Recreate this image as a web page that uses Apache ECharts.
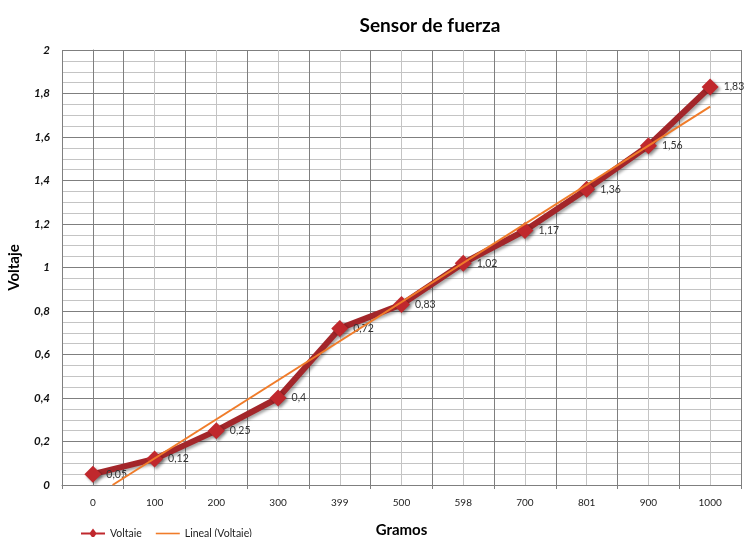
<!DOCTYPE html>
<html><head><meta charset="utf-8">
<script src="https://cdn.jsdelivr.net/npm/echarts@6/dist/echarts.min.js"></script>
<style>html,body{margin:0;padding:0;background:#fff}#c{width:744px;height:537px}</style>
</head><body><div id="c"></div>
<script>
const categories = ['0','100','200','300','399','500','598','700','801','900','1000'];
const voltaje = [0.05, 0.12, 0.25, 0.4, 0.72, 0.83, 1.02, 1.17, 1.36, 1.56, 1.83];
// Linear trendline endpoints (category position, value)
const trendX = [0.32, 10];
const trendY = [0, 1.74];
const yTicks = [0, 0.2, 0.4, 0.6, 0.8, 1, 1.2, 1.4, 1.6, 1.8, 2];

const comma = v => String(v).replace('.', ',');
const FONT = 'Lato, "Liberation Sans", sans-serif';
const chart = echarts.init(document.getElementById('c'));
chart.setOption({
  animation: false,
  backgroundColor: '#fff',
  title: {
    text: 'Sensor de fuerza', left: 425, top: 11, textAlign: 'center',
    textStyle: {fontFamily: FONT, fontWeight: 'bold', fontSize: 19, color: '#000'}
  },
  legend: {
    left: 76, top: 523, itemWidth: 24, itemHeight: 10, itemGap: 14,
    textStyle: {fontFamily: FONT, fontSize: 10.5, color: '#222'},
    data: [
      {name: 'Voltaje', icon: 'path://M0,4.1L9,4.1L12,0L15,4.1L24,4.1L24,5.9L15,5.9L12,10L9,5.9L0,5.9Z'},
      {name: 'Lineal (Voltaje)', icon: 'path://M0,4.2L24,4.2L24,5.8L0,5.8Z'}
    ]
  },
  grid: {left: 62, right: 3, top: 50, bottom: 52, containLabel: false, outerBoundsMode: 'none'},
  xAxis: [{
    type: 'category', data: categories, boundaryGap: true, z: 2,
    name: 'Gramos', nameLocation: 'middle', nameGap: 38,
    nameTextStyle: {fontFamily: FONT, fontWeight: 'bold', fontSize: 15, color: '#000'},
    axisLine: {lineStyle: {color: '#7f7f7f', width: 1}},
    axisTick: {show: true, length: 4, lineStyle: {color: '#7f7f7f'}},
    axisLabel: {fontFamily: FONT, fontSize: 10, color: '#222', margin: 13},
    splitLine: {show: true, lineStyle: {color: '#7f7f7f', width: 1}}
  }, {
    type: 'value', min: -0.5, max: 10.5, interval: 0.5, position: 'bottom', z: 0,
    axisLine: {show: false}, axisTick: {show: false}, axisLabel: {show: false},
    splitLine: {show: true, lineStyle: {color: '#c4c4c4', width: 1}}
  }],
  yAxis: {
    type: 'value', min: 0, max: 2, interval: 0.2,
    name: 'Voltaje', nameLocation: 'middle', nameGap: 40,
    nameTextStyle: {fontFamily: FONT, fontWeight: 'bold', fontSize: 15, color: '#000'},
    axisLine: {show: true, lineStyle: {color: '#7f7f7f'}},
    axisTick: {show: false},
    axisLabel: {
      fontFamily: FONT, fontSize: 11.5, fontWeight: 'bold', fontStyle: 'italic', color: '#111', margin: 12,
      formatter: v => { const t = yTicks.find(k => Math.abs(k - v) < 1e-6); return comma(t !== undefined ? t : +v.toFixed(1)); }
    },
    splitLine: {show: true, lineStyle: {color: '#7f7f7f', width: 1}},
    minorTick: {show: true, splitNumber: 4, length: 0},
    minorSplitLine: {show: true, lineStyle: {color: '#c4c4c4', width: 1}}
  },
  series: [{
    name: 'Lineal (Voltaje)', type: 'line', xAxisIndex: 1,
    data: trendX.map((x, i) => [x, trendY[i]]),
    symbol: 'none', z: 3,
    lineStyle: {color: '#f07c2a', width: 2},
    itemStyle: {color: '#f07c2a'}
  }, {
    name: 'Voltaje', type: 'line', xAxisIndex: 0, data: voltaje,
    symbol: 'diamond', symbolSize: 17, z: 2,
    lineStyle: {color: '#a3262a', width: 6, shadowColor: 'rgba(0,0,0,0.35)', shadowBlur: 3, shadowOffsetX: 2, shadowOffsetY: 2},
    itemStyle: {color: '#c0282d', shadowColor: 'rgba(0,0,0,0.4)', shadowBlur: 3, shadowOffsetX: 2, shadowOffsetY: 2},
    label: {
      show: true, position: 'right', distance: 5,
      fontFamily: FONT, fontSize: 10.5, color: '#333',
      formatter: p => comma(p.value)
    }
  }]
});
</script></body></html>
